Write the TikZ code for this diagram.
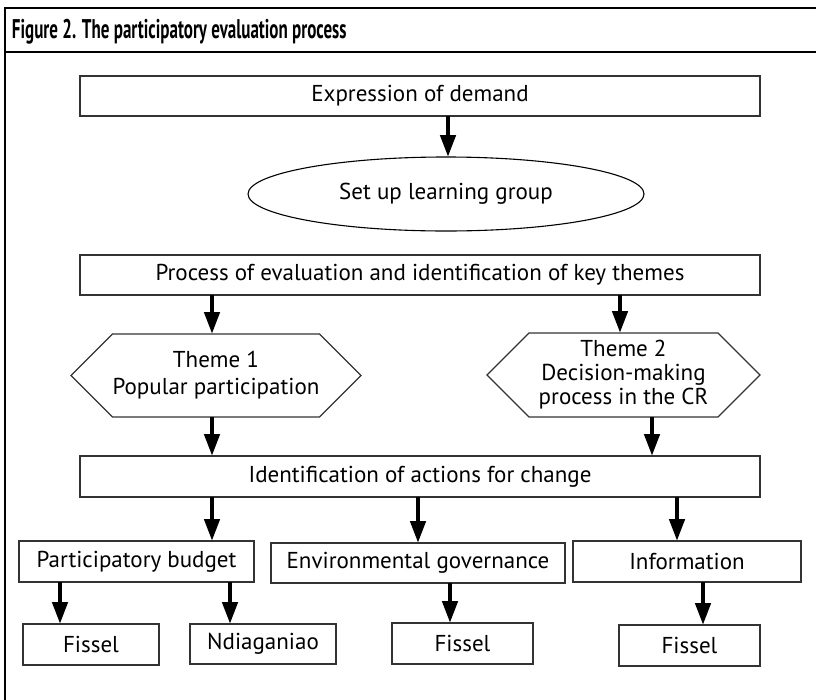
\documentclass[tikz,border=0pt]{standalone}
\usepackage{fontspec}
\setmainfont{PT Sans}
\usetikzlibrary{shapes.geometric,shapes.symbols,arrows.meta}
\begin{document}
\begin{tikzpicture}[x=1pt,y=-1pt,
  every node/.style={outer sep=0pt,inner sep=0pt,font=\fontsize{23}{24}\selectfont,align=center},
  stepbox/.style={draw=black!80,line width=1.3pt,rectangle},
  ovalbox/.style={draw=black,line width=1.1pt,ellipse},
  hexbox/.style={draw=black!80,line width=1.3pt,signal,signal to=east and west,signal pointer angle=90},
  flow/.style={line width=4.5pt,-{Triangle[length=22pt,width=15pt]}},
  frame/.style={line width=2.5pt,black}]
\useasboundingbox (0,0) rectangle (816,699);
% frame and title bar
\draw[frame] (818,8) -- (5,8) -- (5,702);
\draw[frame] (5,52) -- (818,52);
\node[anchor=base west,font=\bfseries\fontsize{27}{30}\selectfont] (title) at (12,38)
  {\scalebox{0.63}[1]{Figure 2. The participatory evaluation process}};
% boxes
\node[stepbox,minimum width=680pt,minimum height=40pt] (demand) at (420,96) {Expression of demand};
\node[ovalbox,minimum width=396pt,minimum height=74pt] (group) at (446,194) {Set up learning group};
\node[stepbox,minimum width=680pt,minimum height=40pt] (proc) at (420,275) {Process of evaluation and identification of key themes};
\node[hexbox,minimum width=272pt,minimum height=83pt] (th1) at (216,375.5) {Theme 1\\[3pt]Popular participation};
\node[hexbox,minimum width=273pt,minimum height=84pt] (th2) at (623.5,375) {Theme 2\\Decision-making\\process in the CR};
\node[stepbox,minimum width=680pt,minimum height=41pt] (act) at (420,476.5) {Identification of actions for change};
\node[stepbox,minimum width=235pt,minimum height=41pt] (pb) at (136.5,561.5) {Participatory budget};
\node[stepbox,minimum width=294pt,minimum height=40pt] (env) at (418,563) {Environmental governance};
\node[stepbox,minimum width=228pt,minimum height=41pt] (info) at (687,561.5) {Information};
\node[stepbox,minimum width=136pt,minimum height=41pt] (f1) at (91,644.5) {Fissel};
\node[stepbox,minimum width=146pt,minimum height=40pt] (nd) at (263,644) {Ndiaganiao};
\node[stepbox,minimum width=141pt,minimum height=41pt] (f2) at (462.5,643.5) {Fissel};
\node[stepbox,minimum width=141pt,minimum height=41pt] (f3) at (689.5,645.5) {Fissel};
% arrow columns
\coordinate (xa) at (448,0);
\coordinate (xb) at (212,0);
\coordinate (xc) at (620,0);
\coordinate (xd) at (652,0);
\coordinate (xe) at (418,0);
\coordinate (xf) at (677,0);
\coordinate (xg) at (60,0);
\coordinate (xh) at (230,0);
\coordinate (xi) at (450,0);
\coordinate (xj) at (703,0);
% connectors
\draw[flow] (demand.south -| xa) -- (group.north -| xa);
\draw[flow] (proc.south -| xb) -- (th1.north -| xb);
\draw[flow] (proc.south -| xc) -- (th2.north -| xc);
\draw[flow] (th1.south -| xb) -- (act.north -| xb);
\draw[flow] (th2.south -| xd) -- (act.north -| xd);
\draw[flow] (act.south -| xb) -- (pb.north -| xb);
\draw[flow] (act.south -| xe) -- (env.north -| xe);
\draw[flow] (act.south -| xf) -- (info.north -| xf);
\draw[flow] (pb.south -| xg) -- (f1.north -| xg);
\draw[flow] (pb.south -| xh) -- (nd.north -| xh);
\draw[flow] (env.south -| xi) -- (f2.north -| xi);
\draw[flow] (info.south -| xj) -- (f3.north -| xj);
\end{tikzpicture}
\end{document}
